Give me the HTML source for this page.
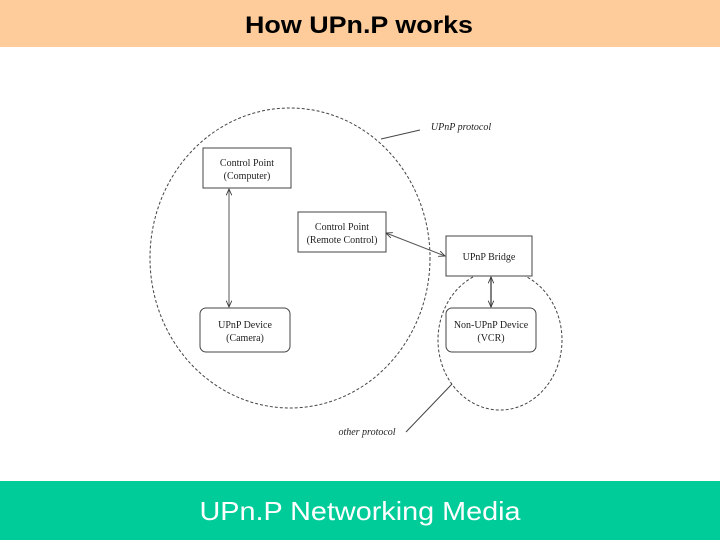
<!DOCTYPE html>
<html><head><meta charset="utf-8"><style>
html,body{margin:0;padding:0;background:#fff;}
svg{display:block;}
</style></head><body>
<svg width="720" height="540" viewBox="0 0 720 540" xmlns="http://www.w3.org/2000/svg">
<defs>
<marker id="a" viewBox="0 0 10 10" refX="9" refY="5" markerWidth="7" markerHeight="7" orient="auto-start-reverse" markerUnits="userSpaceOnUse"><path d="M0,1 L9,5 L0,9" fill="none" stroke="#333" stroke-width="1.2"/></marker>
</defs>
<rect x="0" y="0" width="720" height="47" fill="#fdcc9a"/>
<text x="359" y="33" text-anchor="middle" font-family="Liberation Sans, sans-serif" font-weight="bold" font-size="24" textLength="228" lengthAdjust="spacingAndGlyphs">How UPn.P works</text>
<rect x="0" y="481" width="720" height="59" fill="#00cc99"/>
<text x="360" y="520" text-anchor="middle" font-family="Liberation Sans, sans-serif" font-size="26" fill="#fff" textLength="321" lengthAdjust="spacingAndGlyphs">UPn.P Networking Media</text>

<g fill="none" stroke="#444" stroke-width="1" stroke-dasharray="3,2">
<ellipse cx="290" cy="258" rx="140" ry="150"/>
<ellipse cx="500" cy="340" rx="62" ry="70"/>
</g>
<g fill="none" stroke="#444" stroke-width="1">
<line x1="381" y1="139" x2="420" y2="130"/>
<line x1="406" y1="432" x2="452" y2="384"/>
</g>
<g fill="#fff" stroke="#444" stroke-width="1">
<rect x="203" y="148" width="88" height="40"/>
<rect x="298" y="212" width="88" height="40"/>
<rect x="446" y="236" width="86" height="40"/>
<rect x="200" y="308" width="90" height="44" rx="6"/>
<rect x="446" y="308" width="90" height="44" rx="6"/>
</g>
<g stroke="#555" stroke-width="1" fill="none">
<line x1="229" y1="189" x2="229" y2="307" marker-start="url(#a)" marker-end="url(#a)"/>
<line x1="386" y1="233" x2="445" y2="256" marker-start="url(#a)" marker-end="url(#a)"/>
<line x1="491" y1="277" x2="491" y2="307" stroke-width="1.5" marker-start="url(#a)" marker-end="url(#a)"/>
</g>
<g font-family="Liberation Serif, serif" font-size="10" fill="#222" text-anchor="middle">
<text x="247" y="166">Control Point</text>
<text x="247" y="179">(Computer)</text>
<text x="342" y="230">Control Point</text>
<text x="342" y="243">(Remote Control)</text>
<text x="489" y="260">UPnP Bridge</text>
<text x="245" y="328">UPnP Device</text>
<text x="245" y="341">(Camera)</text>
<text x="491" y="328">Non-UPnP Device</text>
<text x="491" y="341">(VCR)</text>
<text x="461" y="130" font-style="italic">UPnP protocol</text>
<text x="367" y="435" font-style="italic">other protocol</text>
</g>
</svg>
</body></html>
